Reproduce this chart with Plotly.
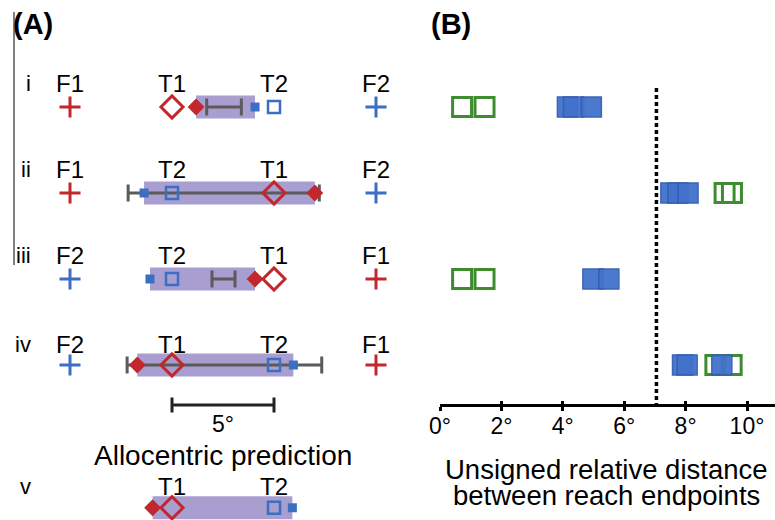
import plotly.graph_objects as go

# ---------------- Panel A data (degrees, relative to the left target) ----------------
rows = ["i", "ii", "iii", "iv", "v"]
row_pos = [0, 1, 2, 3, 4.66]
left_target_label = ["T1", "T2", "T2", "T1", "T1"]
right_target_label = ["T2", "T1", "T1", "T2", "T2"]
left_flank_label = ["F1", "F1", "F2", "F2", ""]
right_flank_label = ["F2", "F2", "F1", "F1", ""]
target_left_pos = 0
target_right_pos = 5
flank_left_pos = -5
flank_right_pos = 10
t1_pos = [0, 5, 5, 0, 0]
t2_pos = [5, 0, 0, 5, 5]
f1_pos = [-5, -5, 10, 10, None]
f2_pos = [10, 10, -5, -5, None]
reach_t1 = [1.18, 7.0, 4.07, -1.7, -0.95]
reach_t2 = [4.07, -1.37, -1.08, 5.95, 5.9]
err_low = [1.7, -2.15, 1.96, -2.2, None]
err_high = [3.4, 7.22, 3.09, 7.34, None]
scale_bar = [0, 5]
scale_label = "5°"

# ---------------- Panel B data ----------------
green_row = [0, 0, 1, 1, 2, 2, 3, 3]
green_val = [0.72, 1.45, 9.27, 9.51, 0.72, 1.45, 8.97, 9.5]
blue_row = [0, 0, 0, 1, 1, 1, 2, 2, 3, 3, 3]
blue_val = [4.15, 4.35, 4.93, 7.52, 7.75, 8.08, 4.98, 5.5, 7.9, 8.05, 9.18]
threshold = 7.05
b_ticks = [0, 2, 4, 6, 8, 10]
b_tick_labels = ["0°", "2°", "4°", "6°", "8°", "10°"]

# ---------------- layout constants ----------------
W, H = 775, 520
A_PX0, A_PXDEG = 172, 20.4
ROW_PX0, ROW_PX = 107, 86
B_PX0, B_PXDEG = 440, 30.7
AXIS_PX = 405
FONT = "Liberation Sans, Arial, sans-serif"
RED = "#C1272D"
BLUE = "#3B6FC4"
GRAY = "#5B5B5B"
PURPLE = "#A89ECF"
GREEN = "#3D8C30"
BFILL = "#4272CC"

label_dy = 24 / ROW_PX
axis_row = (AXIS_PX - ROW_PX0) / ROW_PX

fig = go.Figure()

# purple boxes between the two reach endpoints
box_base = [min(a, b) for a, b in zip(reach_t1, reach_t2)]
box_len = [abs(a - b) for a, b in zip(reach_t1, reach_t2)]
fig.add_trace(go.Bar(orientation="h", y=row_pos, x=box_len, base=box_base,
                     width=0.27, marker=dict(color=PURPLE, line=dict(width=0)),
                     xaxis="x", yaxis="y", hoverinfo="skip"))

# error bars
ex, ey, ee = [], [], []
for lo, hi, r in zip(err_low, err_high, row_pos):
    if lo is None:
        continue
    ex.append((lo + hi) / 2)
    ey.append(r)
    ee.append((hi - lo) / 2)
fig.add_trace(go.Scatter(x=ex, y=ey, mode="markers",
                         marker=dict(size=1, color="rgba(0,0,0,0)"),
                         error_x=dict(type="data", array=ee, symmetric=True,
                                      color=GRAY, thickness=3, width=8.5),
                         xaxis="x", yaxis="y", hoverinfo="skip"))

# scale bar
sb_row = (AXIS_PX - ROW_PX0) / ROW_PX
fig.add_trace(go.Scatter(x=[(scale_bar[0] + scale_bar[1]) / 2], y=[sb_row], mode="markers",
                         marker=dict(size=1, color="rgba(0,0,0,0)"),
                         error_x=dict(type="data", array=[(scale_bar[1] - scale_bar[0]) / 2],
                                      color="#222222", thickness=3, width=7.5),
                         xaxis="x", yaxis="y", hoverinfo="skip"))

# filled reach markers
fig.add_trace(go.Scatter(x=reach_t1, y=row_pos, mode="markers",
                         marker=dict(symbol="diamond", size=13, color=RED, line=dict(width=0)),
                         xaxis="x", yaxis="y", hoverinfo="skip"))
fig.add_trace(go.Scatter(x=reach_t2, y=row_pos, mode="markers",
                         marker=dict(symbol="square", size=9, color=BLUE, line=dict(width=0)),
                         xaxis="x", yaxis="y", hoverinfo="skip"))
# open targets
fig.add_trace(go.Scatter(x=t1_pos, y=row_pos, mode="markers",
                         marker=dict(symbol="diamond-open", size=17, color=RED, line=dict(width=3, color=RED)),
                         xaxis="x", yaxis="y", hoverinfo="skip"))
fig.add_trace(go.Scatter(x=t2_pos, y=row_pos, mode="markers",
                         marker=dict(symbol="square-open", size=12, color=BLUE, line=dict(width=2.5, color=BLUE)),
                         xaxis="x", yaxis="y", hoverinfo="skip"))
# fixation crosses
fig.add_trace(go.Scatter(x=f1_pos, y=row_pos, mode="markers",
                         marker=dict(symbol="cross-thin-open", size=15, color=RED, line=dict(width=3, color=RED)),
                         xaxis="x", yaxis="y", hoverinfo="skip"))
fig.add_trace(go.Scatter(x=f2_pos, y=row_pos, mode="markers",
                         marker=dict(symbol="cross-thin-open", size=15, color=BLUE, line=dict(width=3, color=BLUE)),
                         xaxis="x", yaxis="y", hoverinfo="skip"))

# ---------------- Panel B traces ----------------
fig.add_trace(go.Scatter(x=green_val, y=green_row, mode="markers",
                         marker=dict(symbol="square-open", size=19, color=GREEN, line=dict(width=3, color=GREEN)),
                         xaxis="x2", yaxis="y", hoverinfo="skip"))
fig.add_trace(go.Scatter(x=blue_val, y=blue_row, mode="markers",
                         marker=dict(symbol="square", size=20, color=BFILL, opacity=0.95,
                                     line=dict(width=1.5, color="#345EB0")),
                         xaxis="x2", yaxis="y", hoverinfo="skip"))
# invisible trace to activate overlay tick axis
fig.add_trace(go.Scatter(x=[0], y=[0], mode="markers", marker=dict(opacity=0),
                         xaxis="x3", yaxis="y", hoverinfo="skip"))

# ---------------- annotations ----------------
ann = []
def txt(x, y, s, size, xref="x", yref="y", xanchor="center", bold=False):
    ann.append(dict(x=x, y=y, xref=xref, yref=yref, text=("<b>%s</b>" % s) if bold else s,
                    showarrow=False, xanchor=xanchor, yanchor="middle",
                    font=dict(family=FONT, size=size, color="black")))

num_x = (33 - A_PX0) / A_PXDEG
for i, r in enumerate(row_pos):
    dy = label_dy if i < 3 else 21 / ROW_PX
    txt(num_x, r - dy, rows[i], 22, xanchor="right")
    txt(target_left_pos, r - dy, left_target_label[i], 24)
    txt(target_right_pos, r - dy, right_target_label[i], 24)
    if left_flank_label[i]:
        txt(flank_left_pos, r - dy, left_flank_label[i], 24)
        txt(flank_right_pos, r - dy, right_flank_label[i], 24)

txt((scale_bar[0] + scale_bar[1]) / 2, (424 - ROW_PX0) / ROW_PX, scale_label, 23)
txt((scale_bar[0] + scale_bar[1]) / 2, (455 - ROW_PX0) / ROW_PX, "Allocentric prediction", 28)
txt(33 / W, 1 - 24 / H, "(A)", 29, xref="paper", yref="paper", bold=True)
txt(451 / W, 1 - 24 / H, "(B)", 29, xref="paper", yref="paper", bold=True)
txt(606 / W, 1 - 469 / H, "Unsigned relative distance", 27.5, xref="paper", yref="paper")
txt(606 / W, 1 - 495 / H, "between reach endpoints", 27.5, xref="paper", yref="paper")

shapes = [
    dict(type="line", xref="paper", yref="paper", x0=14 / W, x1=14 / W,
         y0=1 - 12 / H, y1=1 - 265 / H, line=dict(color="#808080", width=2)),
    dict(type="line", xref="x2", yref="y", x0=threshold, x1=threshold,
         y0=(88 - ROW_PX0) / ROW_PX, y1=axis_row, line=dict(color="black", width=3.5, dash="4px,3px")),
]

fig.update_layout(
    width=W, height=H, margin=dict(l=0, r=0, t=0, b=0, autoexpand=False),
    paper_bgcolor="white", plot_bgcolor="white", showlegend=False,
    annotations=ann, shapes=shapes,
    xaxis=dict(domain=[0, 1], range=[(0 - A_PX0) / A_PXDEG, (W - A_PX0) / A_PXDEG],
               visible=False, fixedrange=True),
    yaxis=dict(domain=[0, 1], range=[(H - ROW_PX0) / ROW_PX, (0 - ROW_PX0) / ROW_PX],
               visible=False, fixedrange=True),
    xaxis2=dict(domain=[B_PX0 / W, 1], range=[0, (W - B_PX0) / B_PXDEG],
                anchor="free", position=(H - AXIS_PX) / H,
                showline=True, linecolor="black", linewidth=3,
                ticks="outside", ticklen=4, tickwidth=3, tickcolor="black",
                tickvals=b_ticks, ticktext=b_tick_labels, ticklabelstandoff=-5,
                tickfont=dict(family=FONT, size=23, color="black"),
                showgrid=False, zeroline=False, fixedrange=True, automargin=False),
    xaxis3=dict(overlaying="x2", range=[0, (W - B_PX0) / B_PXDEG],
                anchor="free", position=(H - AXIS_PX) / H,
                showline=False, ticks="inside", ticklen=4, tickwidth=3, tickcolor="black",
                tickvals=b_ticks, showticklabels=False,
                showgrid=False, zeroline=False, fixedrange=True, automargin=False),
)

fig.write_html("out.html", config={"displayModeBar": False},
               post_script="document.body.style.margin='0';document.body.style.overflow='hidden';")
